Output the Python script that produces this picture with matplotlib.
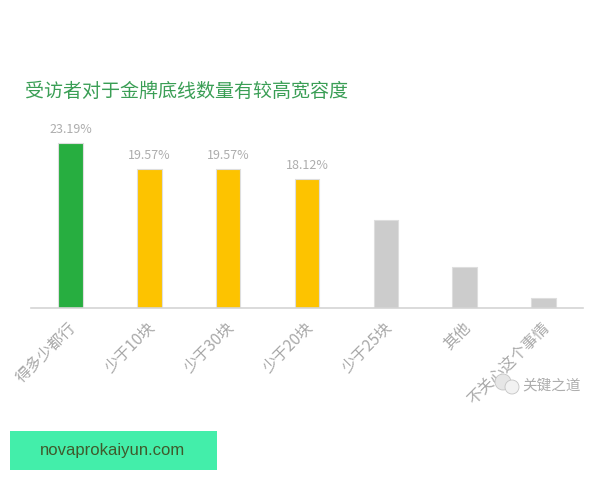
# -*- coding: utf-8 -*-
import matplotlib
matplotlib.use('Agg')
import matplotlib.pyplot as plt
from matplotlib.patches import Circle, Rectangle
from matplotlib.transforms import ScaledTranslation

plt.rcParams['font.family'] = ['Noto Sans CJK SC', 'DejaVu Sans']

title = '受访者对于金牌底线数量有较高宽容度'
categories = ['得多少都行', '少于10块', '少于30块', '少于20块', '少于25块', '其他', '不关心这个事情']
values = [23.19, 19.57, 19.57, 18.12, 12.32, 5.80, 1.45]
labels = ['23.19%', '19.57%', '19.57%', '18.12%', '', '', '']
colors = ['#27ae40', '#fdc300', '#fdc300', '#fdc300', '#cccccc', '#cccccc', '#cccccc']

W, H = 600, 480
fig = plt.figure(figsize=(6, 4.8), dpi=100)

# axes box in pixels: x 31..583, baseline at 308
ax = fig.add_axes([31/W, (H-308)/H, 552/W, 200/H])
ax.bar(range(len(values)), values, width=0.31, color=colors,
       edgecolor='#dedede', linewidth=0.8)
ax.set_xlim(-0.5, 6.5)
ax.set_ylim(0, 23.19*200/165)
for s in ['top', 'right', 'left']:
    ax.spines[s].set_visible(False)
ax.spines['bottom'].set_color('#d4d4d4')
ax.spines['bottom'].set_linewidth(1.2)
ax.set_yticks([])
ax.set_xticks(range(len(categories)))
ax.set_xticklabels(categories, rotation=45, ha='right', rotation_mode='anchor',
                   fontsize=11.2, color='#a8a8a8')
ax.tick_params(axis='x', length=0, pad=8)
for t in ax.get_xticklabels():
    t.set_transform(t.get_transform() + ScaledTranslation(-2/72, 0, fig.dpi_scale_trans))

for i, lab in enumerate(labels):
    if lab:
        ax.annotate(lab, (i, values[i]), xytext=(0, 5), textcoords='offset points',
                    ha='center', va='bottom', fontsize=9, color='#adadad')

fig.text(25/W, 1-91/H, title, fontsize=13.7, color='#3a9e55', va='center', ha='left')

# watermark
fig.patches.append(Circle((503, H-382), 8, transform=None, fc='#e6e6e6', ec='#c4c4c4', lw=0.6, zorder=5))
fig.patches.append(Circle((512, H-387), 7, transform=None, fc='#f2f2f2', ec='#c4c4c4', lw=0.6, zorder=6))
fig.text(522/W, 1-385/H, '关键之道', fontsize=10.5, color='#adadad', va='center', ha='left')

# green site banner
fig.patches.append(Rectangle((10/W, 1-470/H), 207/W, 39/H, transform=fig.transFigure,
                             fc='#43eeaa', ec='none'))
fig.text(113/W, 1-450.5/H, 'novaprokaiyun.com', fontsize=12, color='#3f5a2c',
         va='center', ha='center', family=['Liberation Sans', 'DejaVu Sans'])

fig.savefig('out.png', dpi=100)
